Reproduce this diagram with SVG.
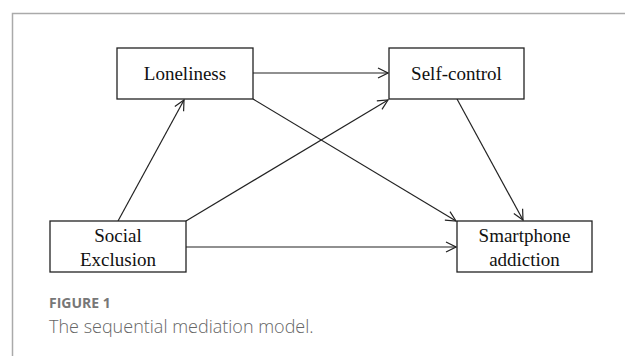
<svg xmlns="http://www.w3.org/2000/svg" width="625" height="356" viewBox="0 0 625 356">
<style>
.box{fill:#fff;stroke:#222;stroke-width:1.3}
.lbl{font-family:"Liberation Serif","Times New Roman",serif;font-size:19px;fill:#111;text-anchor:middle}
.edge{stroke:#222;stroke-width:1.2;fill:none;marker-end:url(#ah)}
.cap1{font-family:"Open Sans","Noto Sans",sans-serif;font-size:14px;font-weight:700;fill:#777}
.cap2{font-family:"Open Sans","Noto Sans",sans-serif;font-size:18px;font-weight:300;fill:#666}
</style>
<defs>
<marker id="ah" viewBox="0 0 12 12" refX="11" refY="6" markerWidth="12" markerHeight="12" markerUnits="userSpaceOnUse" orient="auto">
<path d="M1,1 L11,6 L1,11" fill="none" stroke="#222" stroke-width="1.2"/>
</marker>
</defs>
<rect width="625" height="356" fill="#fff"/>
<path d="M12.5,356 V13.5 H625" fill="none" stroke="#aaa" stroke-width="1.5"/>
<g id="connectors">
<line class="edge" x1="253" y1="73" x2="388" y2="73"/>
<line class="edge" x1="118" y1="221" x2="184" y2="100"/>
<line class="edge" x1="186" y1="221" x2="388" y2="100"/>
<line class="edge" x1="186" y1="247" x2="456" y2="247"/>
<line class="edge" x1="253" y1="99" x2="456" y2="221"/>
<line class="edge" x1="457" y1="99" x2="523" y2="220"/>
</g>
<g id="loneliness">
<rect class="box" x="117" y="48" width="136" height="51"/>
<text class="lbl" x="185" y="80">Loneliness</text>
</g>
<g id="self-control">
<rect class="box" x="389" y="48" width="135" height="51"/>
<text class="lbl" x="456.5" y="80">Self-control</text>
</g>
<g id="social-exclusion">
<rect class="box" x="50" y="221" width="136" height="51"/>
<text class="lbl" x="118" y="242">Social</text>
<text class="lbl" x="118" y="266">Exclusion</text>
</g>
<g id="smartphone-addiction">
<rect class="box" x="457" y="221" width="135" height="51"/>
<text class="lbl" x="524.5" y="242">Smartphone</text>
<text class="lbl" x="524.5" y="266">addiction</text>
</g>
<text class="cap1" x="49" y="308">FIGURE 1</text>
<text class="cap2" x="49" y="333">The sequential mediation model.</text>
</svg>
